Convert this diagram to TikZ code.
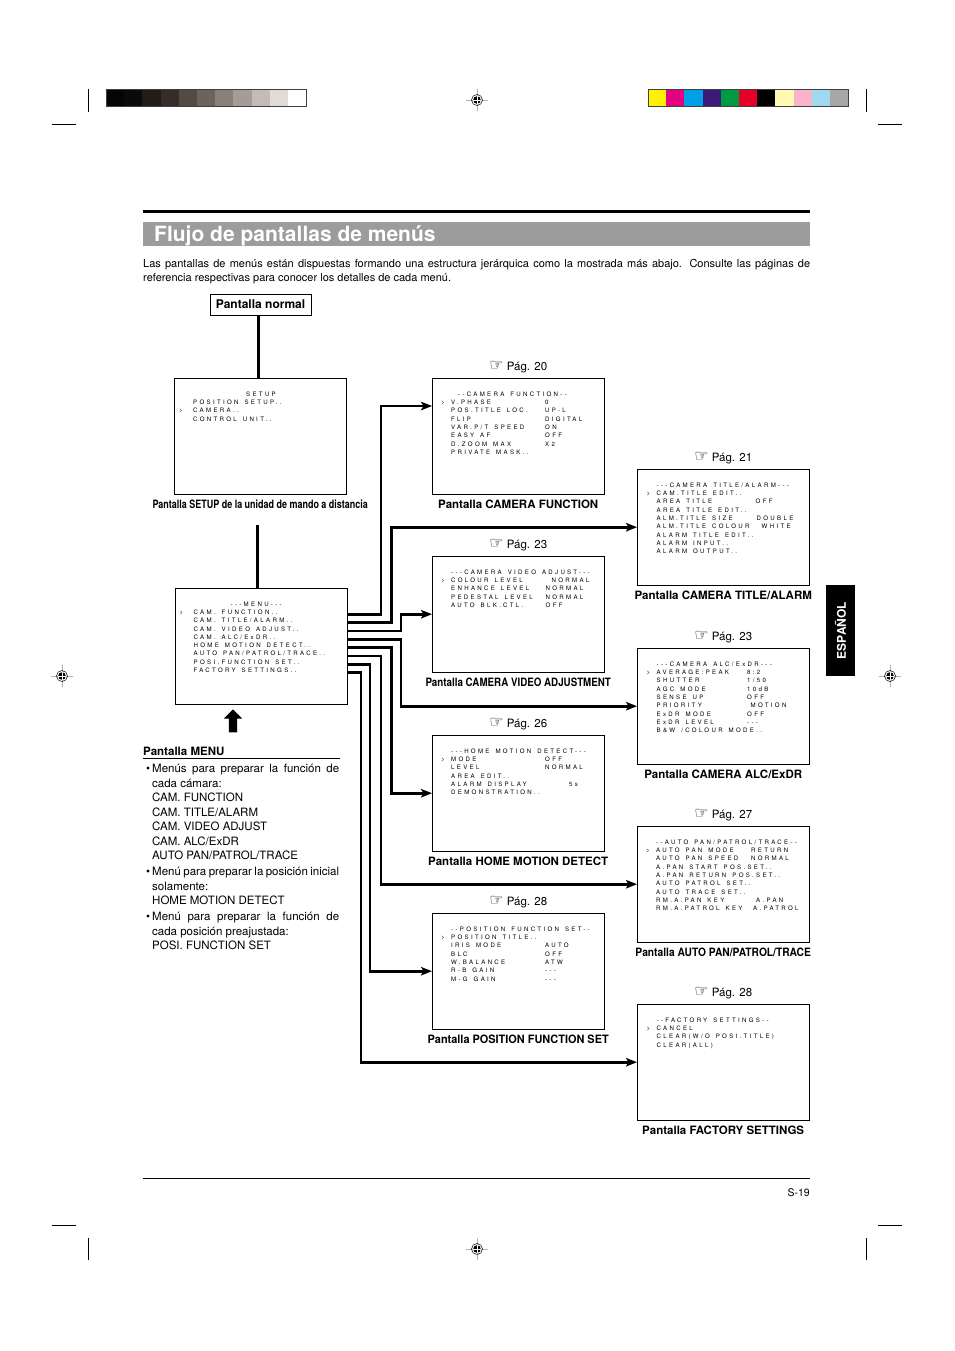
\documentclass[tikz,border=0pt]{standalone}
\usepackage{graphicx}
\usepackage{fontspec}
\setmainfont{TeX Gyre Heros}
\newfontfamily\osdfont[LetterSpace=38,WordSpace=1.5]{TeX Gyre Heros}
\newfontfamily\handfont{DejaVu Sans}
\usetikzlibrary{positioning,arrows.meta,shapes.arrows}

\definecolor{titlegray}{HTML}{9C9C9C}
\newcommand\hand{{\handfont\fontsize{16}{16}\selectfont ☞}}
\newcommand\narrow[2]{\scalebox{#1}[1]{#2}}
\newcommand\osdsel[1][10]{\llap{\makebox[#1pt][l]{>}}}
\newcommand\osdrow[3]{\makebox[#1pt][l]{#2}#3}

\tikzset{
  screen/.style={draw, line width=0.9pt, anchor=north west, inner sep=0pt,
    minimum width=171.5pt, minimum height=115.5pt},
  osd/.style={anchor=north west, inner sep=0pt, align=left, text=black,
    font=\osdfont\fontsize{6.1}{8.3}\selectfont,
    execute at begin node=\rule{0pt}{6pt}},
  screencap/.style={inner sep=2pt, font=\bfseries\fontsize{11.5}{13}\selectfont},
  pageref/.style={inner sep=2pt, font=\fontsize{11.5}{13}\selectfont},
  link/.style={line width=2.6pt, -{Stealth[length=11pt,width=8.5pt,inset=2.5pt]}},
  bar/.style={line width=3pt},
  cropmark/.style={line width=0.6pt},
  regmark/.pic={
    \draw[black!30, line width=0.7pt] (-11,0) -- (11,0) (0,-11) -- (0,11);
    \draw[line width=0.5pt] (0,0) circle (5.5pt);
    \fill (0,0) circle (3.8pt);
    \draw[white, line width=0.9pt] (-3.8,0) -- (3.8,0) (0,-3.8) -- (0,3.8);
  }
}

\begin{document}
\begin{tikzpicture}[x=1pt,y=-1pt]
\useasboundingbox (0,0) rectangle (954,1351);
\fill[white] (0,0) rectangle (954,1351);

% printer marks
\draw[cropmark] (88,89) -- (88,112) (52,124) -- (76,124);
\draw[cropmark] (866,89) -- (866,112) (878,124) -- (902,124);
\draw[cropmark] (88,1238) -- (88,1260) (52,1225) -- (76,1225);
\draw[cropmark] (866,1238) -- (866,1260) (878,1225) -- (902,1225);
\foreach \h [count=\i from 0] in {050505,0A0A0A,221C19,372C29,534A42,6D635C,8A7F79,A69B96,C5BBB6,E0DBD7,FFFFFF}{
  \definecolor{chip}{HTML}{\h}
  \fill[chip] (106+\i*18.2,89) rectangle ++(18.2,17.5);
}
\draw[line width=0.8pt, black!75] (106,89) rectangle (306,106.5);
\foreach \h [count=\i from 0] in {FFF100,E5007F,00A0E9,3E1A78,009A44,E60026,000000,FFF9B2,F7B5CA,A0D8EF,A7A7A7}{
  \definecolor{chip}{HTML}{\h}
  \fill[chip] (648+\i*18.2,89) rectangle ++(18.2,17.5);
}
\draw[line width=0.8pt, black!75] (648,89) rectangle (848,106.5);
\pic at (477,100) {regmark};
\pic at (477,1249) {regmark};
\pic at (62,676) {regmark};
\pic at (890,676) {regmark};

% heading
\draw[line width=3pt] (143,211) -- (810,211);
\node[fill=titlegray, anchor=north west, inner sep=0pt, minimum width=667pt, minimum height=24pt] (titlebar) at (143,222) {};
\node[anchor=base west, inner sep=0pt, text=white, font=\bfseries\fontsize{21}{24}\selectfont] (title) at (154,241.5) {Flujo de pantallas de menús};
\node[anchor=north west, inner sep=0pt, text width=667pt, align=justify, font=\fontsize{11}{14}\selectfont] (intro) at (143,255.5) {\rule{0pt}{12pt}Las pantallas de menús están dispuestas formando una estructura jerárquica como la mostrada más abajo. Consulte las páginas de\linebreak referencia respectivas para conocer los detalles de cada menú.};

% left column
\node[draw, line width=0.9pt, minimum width=101pt, minimum height=21pt, inner sep=0pt, font=\bfseries\fontsize{12}{14}\selectfont] (normal) at (260.5,304.5) {Pantalla normal};
\node[screen] (setup) at (174,378) {};
\node[osd] (setup-txt) at ([shift={(19,13.5)}]setup.north west) {\hspace*{53pt}SETUP\\
  POSITION SETUP..\\
  \osdsel[14]CAMERA..\\
  CONTROL UNIT..};
\node[screencap, below=3pt of setup] (setup-cap) {\narrow{0.78}{Pantalla SETUP de la unidad de mando a distancia}};
\node[screen] (menu) at (175,588) {};
\node[osd] (menu-txt) at ([shift={(18.5,13.5)}]menu.north west) {\hspace*{37pt}-{}-{}-MENU-{}-{}-\\
  \osdsel[14]CAM. FUNCTION..\\
  CAM. TITLE/ALARM..\\
  CAM. VIDEO ADJUST..\\
  CAM. ALC/ExDR..\\
  HOME MOTION DETECT..\\
  AUTO PAN/PATROL/TRACE..\\
  POSI.FUNCTION SET..\\
  FACTORY SETTINGS..};
\draw[bar] ([xshift=-2.5pt]normal.south) -- ([xshift=-2.5pt]normal.south |- setup.north);
\draw[bar] ([xshift=-3.75pt]menu.north) -- ++(0,-63);
\node[single arrow, fill, draw=none, shape border rotate=90, inner sep=4pt,
  single arrow head extend=5pt, minimum height=23pt] (back) at (233,723) {};

\node[anchor=base west, inner sep=0pt, font=\bfseries\fontsize{11.5}{14}\selectfont] (menu-head) at (143,755) {Pantalla MENU};
\draw[line width=0.7pt] ([yshift=-3.5pt]menu-head.base west) -- ++(197,0);
\node[anchor=north west, inner sep=0pt, text width=187pt, align=justify, font=\fontsize{11.5}{14.5}\selectfont] (menu-notes) at (152,760.5) {\rule{0pt}{12pt}\llap{•\hspace{2pt}}Menús para preparar la función de\linebreak
  cada cámara:\\
  CAM. FUNCTION\\
  CAM. TITLE/ALARM\\
  CAM. VIDEO ADJUST\\
  CAM. ALC/ExDR\\
  AUTO PAN/PATROL/TRACE\\[1.5pt]
  \llap{•\hspace{2pt}}Menú para preparar la posición inicial\linebreak
  solamente:\\
  HOME MOTION DETECT\\[1.5pt]
  \llap{•\hspace{2pt}}Menú para preparar la función de\linebreak
  cada posición preajustada:\\
  POSI. FUNCTION SET};

% middle column
\node[screen] (fn) at (432,378) {};
\node[osd] (fn-txt) at ([shift={(19,13.5)}]fn.north west) {\hspace*{7pt}-{}-CAMERA FUNCTION-{}-\\
  \osdsel\osdrow{94}{V.PHASE}{0}\\
  \osdrow{94}{POS.TITLE LOC.}{UP-L}\\
  \osdrow{94}{FLIP}{DIGITAL}\\
  \osdrow{94}{VAR.P/T SPEED}{ON}\\
  \osdrow{94}{EASY AF}{OFF}\\
  \osdrow{94}{D.ZOOM MAX}{X2}\\
  PRIVATE MASK..};
\node[pageref, above=3pt of fn] (fn-pg) {\hand\ Pág. 20};
\node[screencap, below=3pt of fn] (fn-cap) {Pantalla CAMERA FUNCTION};

\node[screen] (vid) at (432,556) {};
\node[osd] (vid-txt) at ([shift={(19,13.5)}]vid.north west) {-{}-{}-CAMERA VIDEO ADJUST-{}-{}-\\
  \osdsel\osdrow{100.5}{COLOUR LEVEL}{NORMAL}\\
  \osdrow{94.5}{ENHANCE LEVEL}{NORMAL}\\
  \osdrow{94.5}{PEDESTAL LEVEL}{NORMAL}\\
  \osdrow{94.5}{AUTO BLK.CTL.}{OFF}};
\node[pageref, above=3pt of vid] (vid-pg) {\hand\ Pág. 23};
\node[screencap, below=3pt of vid] (vid-cap) {\narrow{0.85}{Pantalla CAMERA VIDEO ADJUSTMENT}};

\node[screen] (home) at (432,735) {};
\node[osd] (home-txt) at ([shift={(19,13.5)}]home.north west) {-{}-{}-HOME MOTION DETECT-{}-{}-\\
  \osdsel\osdrow{94}{MODE}{OFF}\\
  \osdrow{94}{LEVEL}{NORMAL}\\
  AREA EDIT..\\
  \osdrow{118}{ALARM DISPLAY}{5s}\\
  DEMONSTRATION..};
\node[pageref, above=3pt of home] (home-pg) {\hand\ Pág. 26};
\node[screencap, below=3pt of home] (home-cap) {Pantalla HOME MOTION DETECT};

\node[screen] (pos) at (432,913) {};
\node[osd] (pos-txt) at ([shift={(19,13.5)}]pos.north west) {-{}-POSITION FUNCTION SET-{}-\\
  \osdsel POSITION TITLE..\\
  \osdrow{94}{IRIS MODE}{AUTO}\\
  \osdrow{94}{BLC}{OFF}\\
  \osdrow{94}{W.BALANCE}{ATW}\\
  \osdrow{94}{R-B GAIN}{-{}-{}-}\\
  \osdrow{94}{M-G GAIN}{-{}-{}-}};
\node[pageref, above=3pt of pos] (pos-pg) {\hand\ Pág. 28};
\node[screencap, below=3pt of pos] (pos-cap) {\narrow{0.95}{Pantalla POSITION FUNCTION SET}};

% right column
\node[screen] (tal) at (637,469) {};
\node[osd] (tal-txt) at ([shift={(19.5,13.5)}]tal.north west) {-{}-{}-CAMERA TITLE/ALARM-{}-{}-\\
  \osdsel CAM.TITLE EDIT..\\
  \osdrow{99}{AREA TITLE}{OFF}\\
  AREA TITLE EDIT..\\
  \osdrow{100}{ALM.TITLE SIZE}{DOUBLE}\\
  \osdrow{105}{ALM.TITLE COLOUR}{WHITE}\\
  ALARM TITLE EDIT..\\
  ALARM INPUT..\\
  ALARM OUTPUT..};
\node[pageref, above=3pt of tal] (tal-pg) {\hand\ Pág. 21};
\node[screencap, below=3pt of tal] (tal-cap) {Pantalla CAMERA TITLE/ALARM};

\node[screen] (alc) at (637,648) {};
\node[osd] (alc-txt) at ([shift={(19.5,13.5)}]alc.north west) {-{}-{}-CAMERA ALC/ExDR-{}-{}-\\
  \osdsel\osdrow{90.5}{AVERAGE:PEAK}{8:2}\\
  \osdrow{90.5}{SHUTTER}{1/50}\\
  \osdrow{90.5}{AGC MODE}{10dB}\\
  \osdrow{90.5}{SENSE UP}{OFF}\\
  \osdrow{94}{PRIORITY}{MOTION}\\
  \osdrow{90.5}{ExDR MODE}{OFF}\\
  \osdrow{90.5}{ExDR LEVEL}{-{}-{}-}\\
  B\&W /COLOUR MODE..};
\node[pageref, above=3pt of alc] (alc-pg) {\hand\ Pág. 23};
\node[screencap, below=3pt of alc] (alc-cap) {Pantalla CAMERA ALC/ExDR};

\node[screen] (auto) at (637,826) {};
\node[osd] (auto-txt) at ([shift={(19,13.5)}]auto.north west) {-{}-AUTO PAN/PATROL/TRACE-{}-\\
  \osdsel\osdrow{95}{AUTO PAN MODE}{RETURN}\\
  \osdrow{95}{AUTO PAN SPEED}{NORMAL}\\
  A.PAN START POS.SET..\\
  A.PAN RETURN POS.SET..\\
  AUTO PATROL SET..\\
  AUTO TRACE SET..\\
  \osdrow{100}{RM.A.PAN KEY}{A.PAN}\\
  \osdrow{97}{RM.A.PATROL KEY}{A.PATROL}};
\node[pageref, above=3pt of auto] (auto-pg) {\hand\ Pág. 27};
\node[screencap, below=3pt of auto] (auto-cap) {\narrow{0.89}{Pantalla AUTO PAN/PATROL/TRACE}};

\node[screen] (fact) at (637,1004) {};
\node[osd] (fact-txt) at ([shift={(19.5,13.5)}]fact.north west) {-{}-FACTORY SETTINGS-{}-\\
  \osdsel CANCEL\\
  CLEAR(W/O POSI.TITLE)\\
  CLEAR(ALL)};
\node[pageref, above=3pt of fact] (fact-pg) {\hand\ Pág. 28};
\node[screencap, below=3pt of fact] (fact-cap) {Pantalla FACTORY SETTINGS};

% links from the menu
\draw[link] ([shift={(0,26.4)}]menu.north east) -| ([shift={(-51,28)}]fn.north west) -- ([shift={(0,28)}]fn.north west);
\draw[link] ([shift={(0,34.7)}]menu.north east) -| ([xshift=-245.5pt]tal.west) -- (tal.west);
\draw[link] ([shift={(0,43)}]menu.north east) -| ([xshift=-31pt]vid.west) -- (vid.west);
\draw[link] ([shift={(0,51.3)}]menu.north east) -| ([xshift=-236pt]alc.west) -- (alc.west);
\draw[link] ([shift={(0,59.6)}]menu.north east) -| ([xshift=-40.5pt]home.west) -- (home.west);
\draw[link] ([shift={(0,67.9)}]menu.north east) -| ([xshift=-256pt]auto.west) -- (auto.west);
\draw[link] ([shift={(0,76.2)}]menu.north east) -| ([xshift=-62pt]pos.west) -- (pos.west);
\draw[link] ([shift={(0,84.5)}]menu.north east) -| ([xshift=-276pt]fact.west) -- (fact.west);

% side tab and footer
\node[fill=black, text=white, rotate=90, inner sep=0pt, minimum width=91pt, minimum height=29pt,
  font=\bfseries\fontsize{12}{14}\selectfont] (tab) at (840.5,630.5) {ESPAÑOL};
\draw[line width=0.7pt] (143,1178) -- (810,1178);
\node[anchor=base east, inner sep=0pt, font=\fontsize{10.5}{12}\selectfont] (folio) at (810,1196) {S-19};
\end{tikzpicture}
\end{document}
